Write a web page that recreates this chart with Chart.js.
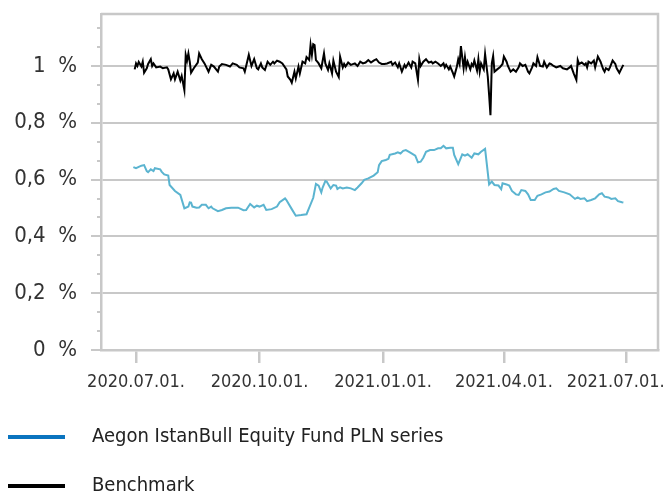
<!DOCTYPE html>
<html>
<head>
<meta charset="utf-8">
<script src="https://cdn.jsdelivr.net/npm/chart.js@4.4.0/dist/chart.umd.min.js"></script>
<style>
    body { margin: 0; background: #fff; }
    #wrap { position: relative; width: 666px; height: 491px; overflow: hidden; }
    #legend { position: absolute; left: 0; top: 425px; font: 20px 'DejaVu Sans Condensed', 'Liberation Sans Narrow', 'DejaVu Sans', sans-serif; color: #222; }
    .item { display: flex; align-items: center; height: 24px; margin-bottom: 25px; }
    .item span + span { position: relative; top: -2px; }
    .swatch { width: 57px; height: 4px; margin-left: 8px; margin-right: 27px; }
</style>
</head>
<body>
<div id="wrap">
    <canvas id="chart" width="666" height="491"></canvas>
    <div id="legend"></div>
</div>
<script>
// x values are days counted from 2020.07.01.
const xTickDays = [0, 92, 184, 274, 365];
const xTickLabels = ['2020.07.01.', '2020.10.01.', '2021.01.01.', '2021.04.01.', '2021.07.01.'];
const yTickValues = [0, 0.2, 0.4, 0.6, 0.8, 1];
const yTickLabels = ['0  %', '0,2  %', '0,4  %', '0,6  %', '0,8  %', '1  %'];

const seriesNames = ['Aegon IstanBull Equity Fund PLN series', 'Benchmark'];
const lineColors = ['#5bb4d0', '#000000'];
const legendColors = ['#0a74bf', '#000000'];

const fundDays = [-2, 0, 4, 6, 8, 9, 11, 13, 14, 18, 19, 21, 24, 25, 29, 33, 36, 37, 39, 40, 41, 42, 45, 47, 49, 52, 54, 56, 57, 61,
    64, 67, 71, 76, 80, 82, 85, 88, 90, 92, 95, 97, 101, 105, 107, 111, 112, 116, 119, 123, 127, 129, 132, 134, 136, 138, 139, 141, 142, 145,
    147, 149, 150, 152, 154, 157, 160, 163, 165, 168, 170, 173, 177, 180, 181, 183, 186, 188, 189, 193, 195, 197, 199, 201, 204, 208, 210, 212, 214, 216,
    219, 222, 225, 227, 229, 231, 234, 236, 237, 240, 243, 245, 247, 250, 252, 255, 257, 260, 263, 265, 267, 270, 272, 273, 276, 278, 280, 283, 285, 287,
    290, 292, 294, 297, 299, 302, 305, 308, 311, 313, 315, 319, 323, 327, 329, 331, 334, 336, 339, 342, 345, 347, 349, 352, 354, 357, 359, 362, 363];
const fundValues = [0.644, 0.640, 0.649, 0.651, 0.630, 0.626, 0.636, 0.630, 0.640, 0.636, 0.628, 0.618, 0.614, 0.581, 0.560, 0.546, 0.499, 0.501, 0.505, 0.520, 0.519, 0.505, 0.501, 0.502, 0.511, 0.511, 0.499, 0.505, 0.499, 0.489,
    0.493, 0.499, 0.501, 0.501, 0.492, 0.493, 0.514, 0.502, 0.508, 0.505, 0.511, 0.493, 0.496, 0.505, 0.520, 0.534, 0.528, 0.496, 0.473, 0.475, 0.478, 0.501, 0.536, 0.585, 0.579, 0.555, 0.572, 0.595, 0.593, 0.569,
    0.581, 0.579, 0.567, 0.573, 0.569, 0.572, 0.569, 0.563, 0.572, 0.587, 0.599, 0.604, 0.614, 0.626, 0.651, 0.665, 0.669, 0.673, 0.687, 0.692, 0.696, 0.692, 0.701, 0.704, 0.696, 0.684, 0.661, 0.663, 0.677, 0.698,
    0.704, 0.704, 0.710, 0.710, 0.719, 0.710, 0.712, 0.712, 0.687, 0.654, 0.689, 0.684, 0.689, 0.677, 0.692, 0.689, 0.698, 0.708, 0.583, 0.593, 0.581, 0.579, 0.566, 0.587, 0.583, 0.579, 0.560, 0.548, 0.546, 0.563,
    0.560, 0.548, 0.528, 0.528, 0.543, 0.548, 0.555, 0.558, 0.567, 0.569, 0.560, 0.555, 0.548, 0.532, 0.537, 0.532, 0.534, 0.524, 0.528, 0.534, 0.548, 0.552, 0.540, 0.537, 0.532, 0.534, 0.524, 0.520, 0.519];

const benchDays = [-1, 0, 1, 2, 4, 5, 6, 8, 9, 11, 12, 13, 15, 18, 20, 23, 24, 26, 28, 29, 31, 33, 34, 36, 37, 38, 39, 40, 41, 43,
    46, 47, 49, 51, 54, 56, 58, 61, 62, 64, 67, 70, 72, 75, 77, 80, 81, 83, 84, 86, 88, 90, 91, 93, 94, 96, 98, 100, 102, 103,
    105, 107, 109, 112, 113, 115, 116, 118, 119, 121, 122, 124, 126, 127, 129, 130, 131, 132, 133, 134, 135, 136, 138, 140, 141, 143, 144, 146, 147, 149,
    151, 152, 154, 155, 156, 158, 160, 163, 165, 167, 169, 171, 173, 175, 177, 179, 181, 183, 185, 187, 190, 191, 193, 195, 196, 198, 200, 201, 203, 205,
    206, 208, 210, 211, 212, 214, 216, 218, 220, 221, 223, 225, 227, 229, 230, 231, 233, 234, 236, 237, 239, 240, 241, 242, 244, 245, 246, 247, 249, 250,
    251, 252, 254, 255, 256, 257, 259, 260, 262, 263, 264, 265, 266, 267, 269, 271, 273, 274, 276, 277, 279, 281, 283, 285, 286, 288, 290, 291, 292, 293,
    295, 296, 298, 299, 301, 303, 304, 306, 308, 309, 311, 313, 316, 318, 321, 323, 324, 326, 328, 329, 330, 332, 334, 335, 336, 337, 339, 341, 342, 344,
    346, 348, 349, 350, 352, 353, 355, 357, 358, 360, 362, 363];
const benchValues = [0.988, 1.009, 1.000, 1.014, 0.998, 1.015, 0.976, 0.992, 1.007, 1.024, 1.000, 1.009, 0.995, 0.998, 0.992, 0.995, 0.988, 0.953, 0.974, 0.953, 0.980, 0.949, 0.965, 0.915, 1.039, 1.019, 1.044, 1.015, 0.976, 0.992,
    1.012, 1.044, 1.024, 1.009, 0.980, 1.004, 0.998, 0.980, 0.998, 1.007, 1.004, 0.998, 1.009, 1.004, 0.995, 0.992, 0.980, 1.019, 1.039, 1.000, 1.024, 0.992, 0.988, 1.009, 0.995, 0.986, 1.015, 1.004, 1.015, 1.009,
    1.019, 1.015, 1.009, 0.988, 0.963, 0.951, 0.941, 0.980, 0.956, 0.998, 0.974, 1.015, 1.009, 1.031, 1.021, 1.074, 1.039, 1.077, 1.074, 1.021, 1.015, 1.009, 0.992, 1.044, 1.009, 0.986, 1.009, 0.974, 1.019, 0.980,
    0.961, 1.033, 0.995, 1.007, 0.998, 1.012, 1.004, 1.009, 1.000, 1.015, 1.009, 1.012, 1.021, 1.012, 1.019, 1.024, 1.012, 1.007, 1.007, 1.009, 1.015, 1.004, 1.012, 0.995, 1.009, 0.980, 1.004, 0.995, 1.012, 0.995,
    1.015, 1.009, 0.951, 1.024, 1.000, 1.015, 1.024, 1.012, 1.015, 1.009, 1.015, 1.009, 1.000, 1.009, 0.995, 1.004, 0.988, 0.998, 0.976, 0.963, 0.998, 1.024, 1.007, 1.070, 0.992, 1.031, 0.995, 1.015, 0.988, 1.007,
    1.000, 1.019, 0.984, 1.024, 0.980, 1.009, 0.988, 1.042, 0.963, 0.898, 0.827, 1.009, 1.035, 0.980, 0.988, 0.995, 1.007, 1.033, 1.015, 1.000, 0.980, 0.988, 0.980, 0.995, 1.009, 1.000, 1.004, 0.992, 0.980, 0.974,
    0.995, 1.009, 1.000, 1.031, 1.000, 0.998, 1.015, 0.995, 1.009, 1.007, 1.000, 0.995, 1.000, 0.992, 0.988, 0.995, 1.000, 0.974, 0.951, 1.021, 1.007, 1.012, 1.004, 1.009, 0.995, 1.015, 1.009, 1.019, 0.995, 1.033,
    1.015, 0.988, 0.980, 0.992, 0.986, 0.995, 1.019, 1.007, 0.992, 0.976, 0.995, 1.004];

const gridColor = '#c8c8c8';
const textColor = '#333333';
const fontFamily = "'DejaVu Sans Condensed', 'Liberation Sans Narrow', 'DejaVu Sans', sans-serif";
const minorStep = 0.2 / 3;

const toPoints = (days, values) => days.map((d, i) => ({x: d, y: values[i]}));

const frameAndMinorTicks = {
    id: 'frameAndMinorTicks',
    beforeDatasetsDraw(chart) {
        const ctx = chart.ctx;
        const area = chart.chartArea;
        const y = chart.scales.y;
        ctx.save();
        ctx.strokeStyle = gridColor;
        ctx.lineWidth = 2.5;
        ctx.beginPath();
        ctx.moveTo(area.left, area.top);
        ctx.lineTo(area.right, area.top);
        ctx.lineTo(area.right, area.bottom);
        ctx.stroke();

        ctx.lineWidth = 2;
        for (let i = 1; i * minorStep < y.max; i++) {
            if (i % 3 === 0) continue;
            const py = Math.round(y.getPixelForValue(i * minorStep));
            ctx.beginPath();
            ctx.moveTo(y.right - 4, py);
            ctx.lineTo(y.right, py);
            ctx.stroke();
        }
        ctx.restore();
    }
};

const chart = new Chart(document.getElementById('chart'), {
    type: 'line',
    data: {
        datasets: [
            {
                label: seriesNames[0],
                data: toPoints(fundDays, fundValues),
                borderColor: lineColors[0],
                borderWidth: 2,
                pointRadius: 0,
                tension: 0
            },
            {
                label: seriesNames[1],
                data: toPoints(benchDays, benchValues),
                borderColor: lineColors[1],
                borderWidth: 2,
                pointRadius: 0,
                tension: 0
            }
        ]
    },
    options: {
        responsive: false,
        animation: false,
        devicePixelRatio: 1,
        layout: {padding: {top: 14, right: 8, bottom: 91, left: 0}},
        plugins: {legend: {display: false}, tooltip: {enabled: false}},
        scales: {
            x: {
                type: 'linear',
                min: -26.1,
                max: 388.8,
                afterBuildTicks: scale => {
                    scale.ticks = xTickDays.map(v => ({value: v}));
                },
                afterFit: scale => {
                    scale.height = 50;
                    scale.paddingLeft = 0;
                    scale.paddingRight = 0;
                },
                ticks: {
                    maxRotation: 0,
                    autoSkip: false,
                    padding: 9,
                    color: textColor,
                    font: {family: fontFamily, size: 18},
                    // last label is nudged left so it stays inside the picture
                    callback: (value, index) => index === xTickLabels.length - 1 ? xTickLabels[index] + '    ' : xTickLabels[index]
                },
                grid: {drawOnChartArea: false, tickLength: 13, lineWidth: 2.5, color: gridColor},
                border: {color: gridColor, width: 2.5}
            },
            y: {
                min: 0,
                max: 1.183,
                afterBuildTicks: scale => {
                    scale.ticks = yTickValues.map(v => ({value: v}));
                },
                afterFit: scale => {
                    scale.width = 101;
                    scale.paddingTop = 0;
                    scale.paddingBottom = 0;
                },
                ticks: {
                    padding: 14,
                    color: textColor,
                    font: {family: fontFamily, size: 22},
                    callback: (value, index) => yTickLabels[index]
                },
                grid: {tickLength: 10, lineWidth: 2, color: gridColor},
                border: {color: gridColor, width: 2.5}
            }
        }
    },
    plugins: [frameAndMinorTicks]
});

const legend = document.getElementById('legend');
chart.data.datasets.forEach((ds, i) => {
    const item = document.createElement('div');
    item.className = 'item';
    const swatch = document.createElement('span');
    swatch.className = 'swatch';
    swatch.style.background = legendColors[i];
    const text = document.createElement('span');
    text.textContent = ds.label;
    item.appendChild(swatch);
    item.appendChild(text);
    legend.appendChild(item);
});
</script>
</body>
</html>
